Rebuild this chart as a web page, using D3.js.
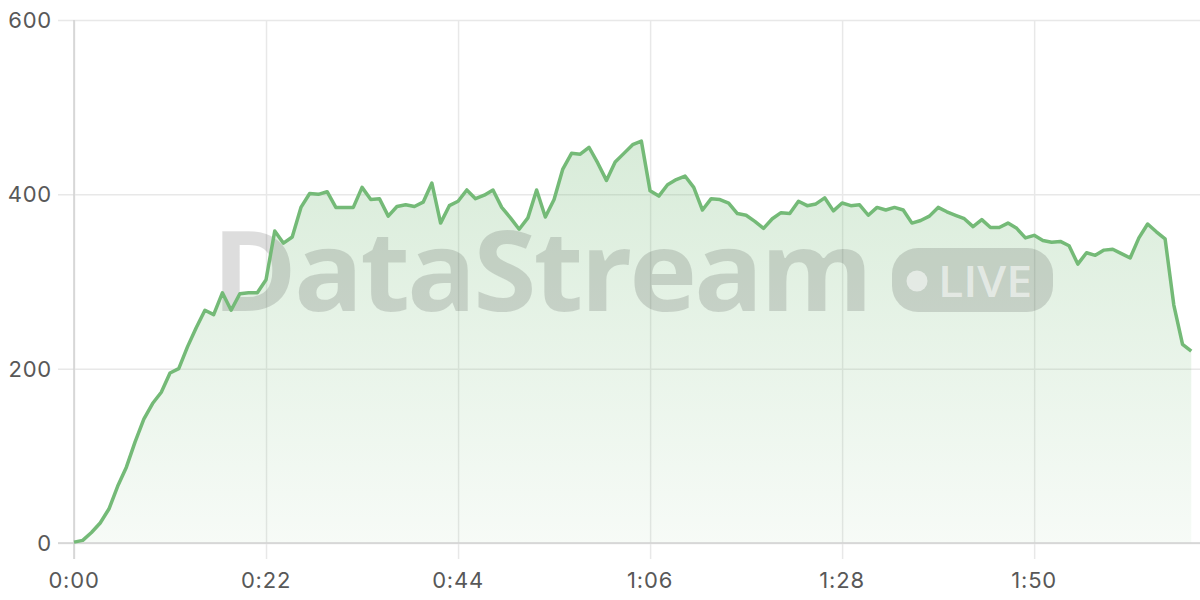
<!DOCTYPE html>
<html>
<head>
<meta charset="utf-8">
<script src="https://cdn.jsdelivr.net/npm/d3@7/dist/d3.min.js"></script>
<style>
	html, body { margin: 0; padding: 0; background: #fff; }
	svg { display: block; }
	.tick-label { font-family: Inter, 'DejaVu Sans', sans-serif; font-size: 22px; fill: #585858; letter-spacing: 0.8px; }
</style>
</head>
<body>
<svg id="chart"></svg>
<script>

// Samples, one per second.
var seconds = [
	0, 1, 2, 3, 4, 5, 6, 7, 8, 9,
	10, 11, 12, 13, 14, 15, 16, 17, 18, 19,
	20, 21, 22, 23, 24, 25, 26, 27, 28, 29,
	30, 31, 32, 33, 34, 35, 36, 37, 38, 39,
	40, 41, 42, 43, 44, 45, 46, 47, 48, 49,
	50, 51, 52, 53, 54, 55, 56, 57, 58, 59,
	60, 61, 62, 63, 64, 65, 66, 67, 68, 69,
	70, 71, 72, 73, 74, 75, 76, 77, 78, 79,
	80, 81, 82, 83, 84, 85, 86, 87, 88, 89,
	90, 91, 92, 93, 94, 95, 96, 97, 98, 99,
	100, 101, 102, 103, 104, 105, 106, 107, 108, 109,
	110, 111, 112, 113, 114, 115, 116, 117, 118, 119,
	120, 121, 122, 123, 124, 125, 126, 127, 128
];

var values = [
	1, 3, 12, 23, 39, 65, 87, 116, 142, 160,
	173, 195, 200, 225, 247, 267, 262, 287, 267, 286,
	287, 287, 302, 358, 344, 351, 385, 401, 400, 403,
	385, 385, 385, 408, 394, 395, 375, 386, 388, 386,
	391, 413, 367, 387, 392, 405, 395, 399, 405, 385,
	373, 360, 373, 405, 374, 394, 429, 447, 446, 454,
	436, 416, 437, 447, 457, 461, 404, 398, 411, 417,
	421, 408, 382, 395, 394, 390, 378, 376, 369, 361,
	372, 379, 378, 392, 387, 389, 396, 381, 390, 387,
	388, 376, 385, 382, 385, 382, 367, 370, 375, 385,
	380, 376, 372, 363, 371, 362, 362, 367, 361, 350,
	353, 347, 345, 346, 341, 320, 333, 330, 336, 337,
	332, 327, 350, 366, 357, 349, 273, 228, 220
];

var xTicks = [ 0, 22, 44, 66, 88, 110 ];
var xTickLabels = [ '0:00', '0:22', '0:44', '1:06', '1:28', '1:50' ];
var yTicks = [ 0, 200, 400, 600 ];

var viz = {
	width: 1200,
	height: 600,
	padding: { top: 20, right: 0, bottom: 57, left: 74 },
	xmax: 129,
	ymax: 600,
	lineColor: '#74ba77'
};

var data = seconds.map( function ( s, i ) {
	return { t: s, v: values[i] };
} );

var svg = d3.select( '#chart' )
	.attr( 'width', viz.width )
	.attr( 'height', viz.height );

var x = d3.scaleLinear()
	.domain( [ 0, viz.xmax ] )
	.range( [ viz.padding.left, viz.width - viz.padding.right ] );

var y = d3.scaleLinear()
	.domain( [ 0, viz.ymax ] )
	.range( [ viz.height - viz.padding.bottom, viz.padding.top ] );

// Fill gradient.
var defs = svg.append( 'defs' );
var grad = defs.append( 'linearGradient' )
	.attr( 'id', 'area-fill' )
	.attr( 'x1', 0 ).attr( 'y1', 0 )
	.attr( 'x2', 0 ).attr( 'y2', 1 );
grad.append( 'stop' ).attr( 'offset', '0%' ).attr( 'stop-color', viz.lineColor ).attr( 'stop-opacity', 0.28 );
grad.append( 'stop' ).attr( 'offset', '100%' ).attr( 'stop-color', viz.lineColor ).attr( 'stop-opacity', 0.06 );

// Grid.
var tickLen = 16;

svg.append( 'g' )
	.attr( 'class', 'y-grid' )
	.attr( 'transform', 'translate(' + viz.padding.left + ',0)' )
	.call( d3.axisLeft( y )
		.tickValues( yTicks )
		.tickSize( -( viz.width - viz.padding.left - viz.padding.right ) )
		.tickFormat( '' ) )
	.call( function ( g ) {
		g.select( '.domain' ).remove();
		g.selectAll( '.tick line' ).attr( 'stroke', '#e8e8e8' ).attr( 'stroke-width', 1.5 ).attr( 'x1', -tickLen );
	} );

svg.append( 'g' )
	.attr( 'class', 'x-grid' )
	.attr( 'transform', 'translate(0,' + y( 0 ) + ')' )
	.call( d3.axisBottom( x )
		.tickValues( xTicks )
		.tickSize( -( y( 0 ) - viz.padding.top ) )
		.tickFormat( '' ) )
	.call( function ( g ) {
		g.select( '.domain' ).remove();
		g.selectAll( '.tick line' ).attr( 'stroke', '#e8e8e8' ).attr( 'stroke-width', 1.5 ).attr( 'y1', tickLen );
	} );

// Area.
var area = d3.area()
	.x( function ( d ) { return x( d.t ); } )
	.y0( y( 0 ) )
	.y1( function ( d ) { return y( d.v ); } );

svg.append( 'path' )
	.datum( data )
	.attr( 'd', area )
	.attr( 'fill', 'url(#area-fill)' );

// Watermark.
var mark = svg.append( 'g' ).attr( 'class', 'watermark' );
mark.append( 'text' )
	.attr( 'x', 212 )
	.attr( 'y', 311 )
	.attr( 'textLength', 658 )
	.attr( 'lengthAdjust', 'spacingAndGlyphs' )
	.style( 'font-family', "'Open Sans', 'Noto Sans', sans-serif" )
	.style( 'font-weight', 700 )
	.style( 'font-size', '112px' )
	.style( 'letter-spacing', '-3px' )
	.attr( 'fill', 'rgba(0,0,0,0.135)' )
	.text( 'DataStream' );
mark.append( 'rect' )
	.attr( 'x', 892 )
	.attr( 'y', 248 )
	.attr( 'width', 161 )
	.attr( 'height', 64 )
	.attr( 'rx', 26 )
	.attr( 'fill', 'rgba(0,0,0,0.135)' );
mark.append( 'circle' )
	.attr( 'cx', 917 )
	.attr( 'cy', 281 )
	.attr( 'r', 10.5 )
	.attr( 'fill', 'rgba(255,255,255,0.55)' );
mark.append( 'text' )
	.attr( 'x', 938 )
	.attr( 'y', 297 )
	.attr( 'textLength', 94 )
	.attr( 'lengthAdjust', 'spacingAndGlyphs' )
	.style( 'font-family', "'Open Sans', 'Noto Sans', sans-serif" )
	.style( 'font-weight', 600 )
	.style( 'font-size', '44px' )
	.attr( 'fill', 'rgba(255,255,255,0.55)' )
	.text( 'LIVE' );

// Axis lines.
svg.append( 'line' )
	.attr( 'x1', x( 0 ) ).attr( 'x2', x( 0 ) )
	.attr( 'y1', viz.padding.top ).attr( 'y2', y( 0 ) + tickLen )
	.attr( 'stroke', '#d2d2d2' ).attr( 'stroke-width', 1.5 );
svg.append( 'line' )
	.attr( 'x1', x( 0 ) - tickLen ).attr( 'x2', viz.width )
	.attr( 'y1', y( 0 ) ).attr( 'y2', y( 0 ) )
	.attr( 'stroke', '#d2d2d2' ).attr( 'stroke-width', 1.5 );

// Line.
var line = d3.line()
	.x( function ( d ) { return x( d.t ); } )
	.y( function ( d ) { return y( d.v ); } );

svg.append( 'path' )
	.datum( data )
	.attr( 'd', line )
	.attr( 'fill', 'none' )
	.attr( 'stroke', viz.lineColor )
	.attr( 'stroke-width', 3.5 )
	.attr( 'stroke-linejoin', 'round' );

// Labels.
svg.selectAll( '.y-label' )
	.data( yTicks )
	.enter()
	.append( 'text' )
	.attr( 'class', 'tick-label' )
	.attr( 'x', x( 0 ) - tickLen - 6 )
	.attr( 'y', function ( d ) { return y( d ); } )
	.attr( 'dy', '0.36em' )
	.attr( 'text-anchor', 'end' )
	.text( function ( d ) { return d; } );

svg.selectAll( '.x-label' )
	.data( xTicks )
	.enter()
	.append( 'text' )
	.attr( 'class', 'tick-label' )
	.attr( 'x', function ( d ) { return x( d ); } )
	.attr( 'y', y( 0 ) + 45 )
	.attr( 'text-anchor', 'middle' )
	.text( function ( d, i ) { return xTickLabels[i]; } );

</script>
</body>
</html>
